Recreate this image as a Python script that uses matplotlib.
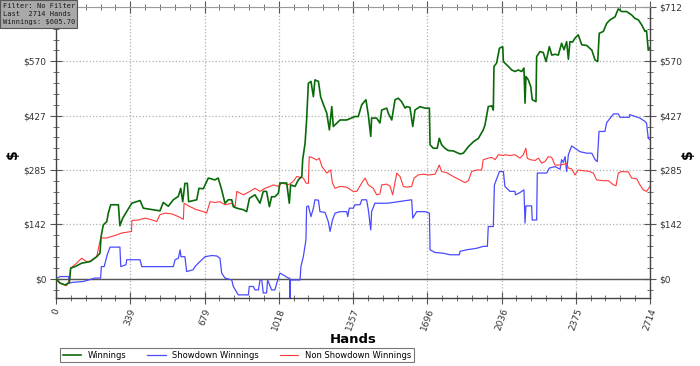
import matplotlib
matplotlib.use("Agg")
import matplotlib.pyplot as plt
from matplotlib.ticker import FixedLocator, MultipleLocator

# ---- data (hand number, cumulative $) ----
win_hands = [0, 18, 41, 61, 67, 87, 117, 155, 186, 201, 206, 216, 232, 239, 250, 285, 292, 305,
             323, 346, 384, 399, 475, 490, 513, 536, 559, 570, 579, 589, 600, 606, 643, 653, 673,
             696, 726, 741, 757, 772, 787, 803, 810, 826, 856, 871, 884, 909, 932, 947, 962, 975,
             985, 1000, 1016, 1023, 1039, 1054, 1066, 1072, 1092, 1107, 1123, 1127, 1138, 1145,
             1153, 1165, 1176, 1183, 1199, 1209, 1222, 1237, 1249, 1260, 1267, 1298, 1328, 1366,
             1381, 1397, 1416, 1427, 1438, 1442, 1465, 1480, 1488, 1511, 1518, 1534, 1549, 1564,
             1579, 1595, 1602, 1617, 1630, 1640, 1663, 1686, 1706, 1709, 1724, 1742, 1751, 1762,
             1777, 1792, 1815, 1846, 1861, 1884, 1907, 1930, 1952, 1960, 1968, 1975, 1991, 1998,
             2001, 2013, 2026, 2041, 2044, 2067, 2082, 2097, 2112, 2128, 2138, 2143, 2147, 2158,
             2169, 2176, 2193, 2196, 2211, 2226, 2239, 2254, 2265, 2280, 2295, 2310, 2321, 2333,
             2341, 2348, 2360, 2371, 2386, 2402, 2425, 2448, 2463, 2475, 2482, 2501, 2516, 2531,
             2554, 2569, 2584, 2607, 2630, 2645, 2661, 2676, 2691, 2698, 2702, 2706, 2714]
win_vals = [0, -11, -16, -10, 28, 32, 41, 45, 58, 67, 111, 141, 150, 172, 194, 194, 139, 159,
            176, 198, 205, 185, 178, 200, 190, 207, 216, 237, 202, 250, 250, 202, 207, 237, 236,
            264, 259, 264, 233, 198, 207, 207, 189, 185, 181, 176, 211, 220, 198, 229, 229, 189,
            215, 215, 224, 251, 251, 251, 198, 246, 242, 259, 268, 312, 355, 416, 512, 517, 477,
            521, 517, 477, 456, 434, 390, 451, 399, 416, 416, 425, 425, 456, 469, 429, 373, 421,
            421, 408, 442, 447, 434, 416, 469, 473, 464, 447, 451, 449, 399, 442, 451, 447, 447,
            351, 342, 342, 368, 351, 342, 336, 335, 327, 329, 346, 359, 368, 390, 403, 429, 451,
            453, 442, 556, 565, 604, 608, 569, 556, 547, 543, 547, 543, 552, 460, 530, 521, 503,
            469, 464, 582, 595, 593, 569, 608, 586, 588, 586, 617, 600, 621, 575, 621, 620, 630,
            639, 613, 611, 599, 573, 569, 643, 648, 669, 678, 686, 707, 700, 700, 691, 682, 678,
            665, 648, 650, 626, 599, 605.7]

sd_hands = [0, 18, 58, 61, 79, 125, 178, 204, 207, 220, 234, 247, 292, 296, 320, 323, 384, 392,
            536, 544, 559, 567, 571, 589, 597, 627, 635, 650, 681, 711, 734, 749, 757, 772, 803,
            810, 833, 879, 883, 902, 909, 925, 932, 940, 947, 962, 967, 985, 1000, 1013, 1023,
            1039, 1061, 1068, 1069, 1071, 1115, 1119, 1130, 1142, 1145, 1153, 1165, 1176, 1183,
            1199, 1206, 1229, 1244, 1252, 1263, 1275, 1298, 1328, 1333, 1340, 1358, 1366, 1389,
            1397, 1419, 1427, 1438, 1442, 1457, 1511, 1541, 1564, 1587, 1625, 1630, 1648, 1686,
            1706, 1709, 1732, 1770, 1800, 1843, 1846, 1876, 1922, 1952, 1971, 1975, 1998, 2003,
            2026, 2044, 2051, 2074, 2097, 2099, 2120, 2138, 2143, 2147, 2173, 2176, 2196, 2199,
            2242, 2254, 2280, 2303, 2310, 2318, 2326, 2333, 2341, 2356, 2371, 2394, 2425, 2448,
            2463, 2473, 2481, 2508, 2516, 2547, 2569, 2577, 2619, 2621, 2668, 2691, 2698, 2706,
            2714]
sd_vals = [0, 6, 6, -11, -9, -7, 2, 2, 32, 32, 63, 83, 83, 32, 37, 50, 50, 32, 32, 50, 54, 76,
           58, 58, 19, 24, 32, 41, 58, 61, 60, 54, 15, 2, -3, -20, -42, -42, -20, -20, -29, -29,
           -3, -3, -37, -37, -3, -29, -29, -3, 15, 10, 2, 2, -60, -3, -3, 32, 58, 102, 189, 191,
           163, 185, 207, 206, 176, 174, 150, 124, 154, 172, 176, 176, 163, 185, 185, 194, 194,
           207, 207, 181, 128, 176, 198, 198, 200, 202, 204, 207, 159, 176, 176, 172, 76, 69, 67,
           63, 63, 72, 76, 80, 85, 85, 137, 137, 246, 281, 281, 242, 229, 229, 220, 226, 233,
           146, 191, 191, 154, 154, 277, 277, 290, 294, 287, 312, 305, 320, 281, 325, 348, 342,
           333, 329, 329, 312, 307, 386, 386, 409, 432, 432, 423, 423, 430, 421, 412, 408, 368,
           364]

nsd_hands = [0, 18, 49, 61, 67, 94, 117, 140, 163, 186, 204, 232, 254, 277, 300, 345, 347, 376,
             407, 430, 460, 475, 498, 529, 559, 582, 585, 612, 643, 673, 688, 704, 726, 749, 772,
             803, 818, 826, 856, 886, 909, 932, 955, 978, 993, 1016, 1031, 1061, 1084, 1100, 1115,
             1130, 1142, 1153, 1157, 1176, 1191, 1203, 1215, 1237, 1255, 1263, 1275, 1298, 1328,
             1358, 1374, 1397, 1412, 1427, 1450, 1465, 1480, 1488, 1511, 1526, 1538, 1557, 1572,
             1587, 1602, 1625, 1636, 1655, 1678, 1701, 1732, 1751, 1762, 1785, 1815, 1846, 1869,
             1884, 1899, 1922, 1945, 1952, 1975, 1991, 2006, 2021, 2044, 2051, 2074, 2097, 2120,
             2135, 2147, 2153, 2166, 2189, 2204, 2219, 2234, 2249, 2265, 2280, 2303, 2318, 2333,
             2341, 2356, 2371, 2386, 2409, 2432, 2455, 2470, 2501, 2524, 2547, 2559, 2569, 2584,
             2615, 2630, 2653, 2668, 2683, 2698, 2714]
nsd_vals = [0, -11, -18, -3, 28, 41, 54, 45, 47, 58, 107, 107, 111, 115, 120, 124, 153, 154,
            159, 156, 150, 168, 172, 170, 163, 156, 198, 189, 181, 176, 172, 202, 200, 202, 194,
            198, 189, 229, 220, 229, 237, 229, 237, 242, 246, 242, 251, 246, 255, 268, 266, 264,
            251, 250, 320, 316, 311, 316, 294, 277, 285, 251, 237, 242, 240, 229, 229, 251, 264,
            246, 237, 220, 222, 246, 248, 243, 220, 277, 268, 242, 240, 242, 264, 272, 274, 272,
            274, 298, 281, 278, 268, 259, 252, 257, 281, 285, 285, 312, 316, 318, 312, 325, 323,
            325, 323, 325, 316, 325, 342, 316, 312, 310, 316, 303, 307, 320, 318, 298, 298, 300,
            302, 290, 288, 272, 285, 283, 282, 277, 259, 257, 257, 246, 244, 277, 281, 280, 264,
            262, 246, 233, 229, 242]

x_ticks = [0, 339, 679, 1018, 1357, 1696, 2036, 2375, 2714]
y_ticks = [0, 142.4, 284.8, 427.2, 569.6, 712]
y_labels = ['$0', '$142', '$285', '$427', '$570', '$712']

fig = plt.figure(figsize=(7.0, 3.66), dpi=100)
ax = fig.add_axes([0.08, 0.186, 0.8486, 0.795])

ax.plot(win_hands, win_vals, color='#0a6a0a', lw=1.2, label='Winnings', zorder=4)
ax.plot(sd_hands, sd_vals, color='#4a4aff', lw=0.9, label='Showdown Winnings', zorder=3)
ax.plot(nsd_hands, nsd_vals, color='#ff3a3a', lw=0.8, label='Non Showdown Winnings', zorder=3)

ax.axhline(0, color='#555555', lw=1.0, zorder=2)

ax.set_xlim(0, 2714)
ax.set_ylim(-50, 712)
ax.xaxis.set_major_locator(FixedLocator(x_ticks))
ax.xaxis.set_minor_locator(MultipleLocator(2714 / 40))
ax.set_xticks(x_ticks)
ax.set_xticklabels([str(t) for t in x_ticks], rotation=70, ha='center', va='top',
                   fontsize=6.5, color='#333333')
ax.set_yticks(y_ticks)
ax.set_yticklabels(y_labels, fontsize=6.5, color='#333333')
ax.yaxis.set_minor_locator(MultipleLocator(712 / 25))

ax.tick_params(axis='y', which='both', left=True, right=True, labelleft=True, labelright=True,
               direction='inout', color='#555555')
ax.tick_params(axis='y', which='major', length=8, pad=3)
ax.tick_params(axis='y', which='minor', length=5)
ax.tick_params(axis='x', which='both', top=True, bottom=True, direction='inout', color='#555555')
ax.tick_params(axis='x', which='major', length=9, pad=2)
ax.tick_params(axis='x', which='minor', length=5)

# the top-left $712 label sits under the info box in the original
ax.yaxis.get_major_ticks()[-1].label1.set_visible(False)

ax.grid(True, which='major', linestyle=':', color='#b0b0b0', lw=0.9)
for side in ['left', 'right', 'bottom']:
    ax.spines[side].set_color('#444444')
    ax.spines[side].set_linewidth(1.0)
ax.spines['top'].set_color('#999999')
ax.spines['top'].set_linewidth(0.8)

ax.set_xlabel('Hands', fontsize=9.5, fontweight='bold', labelpad=1)
fig.text(0.018, 0.58, '$', rotation=90, fontsize=10, fontweight='bold', ha='center', va='center')
fig.text(0.983, 0.58, '$', rotation=90, fontsize=10, fontweight='bold', ha='center', va='center')

leg = fig.legend(loc='upper left', bbox_to_anchor=(0.08, 0.02, 0.517, 0.04), ncol=3,
                 mode='expand', fontsize=6, frameon=True, fancybox=False,
                 handlelength=2.2, borderpad=0.3, handletextpad=0.8)
leg.get_frame().set_edgecolor('#555555')
leg.get_frame().set_linewidth(0.8)

fig.text(0.004, 0.992, 'Filter: No Filter\nLast  2714 Hands\nWinnings: $605.70',
         family='DejaVu Sans Mono', fontsize=5.0, linespacing=1.45, ha='left', va='top',
         color='#1a1a1a',
         bbox=dict(boxstyle='square,pad=0.35', facecolor='#a9a9a9', edgecolor='#555555', lw=0.8),
         zorder=10)

plt.savefig('out.png', dpi=100, facecolor='white')
